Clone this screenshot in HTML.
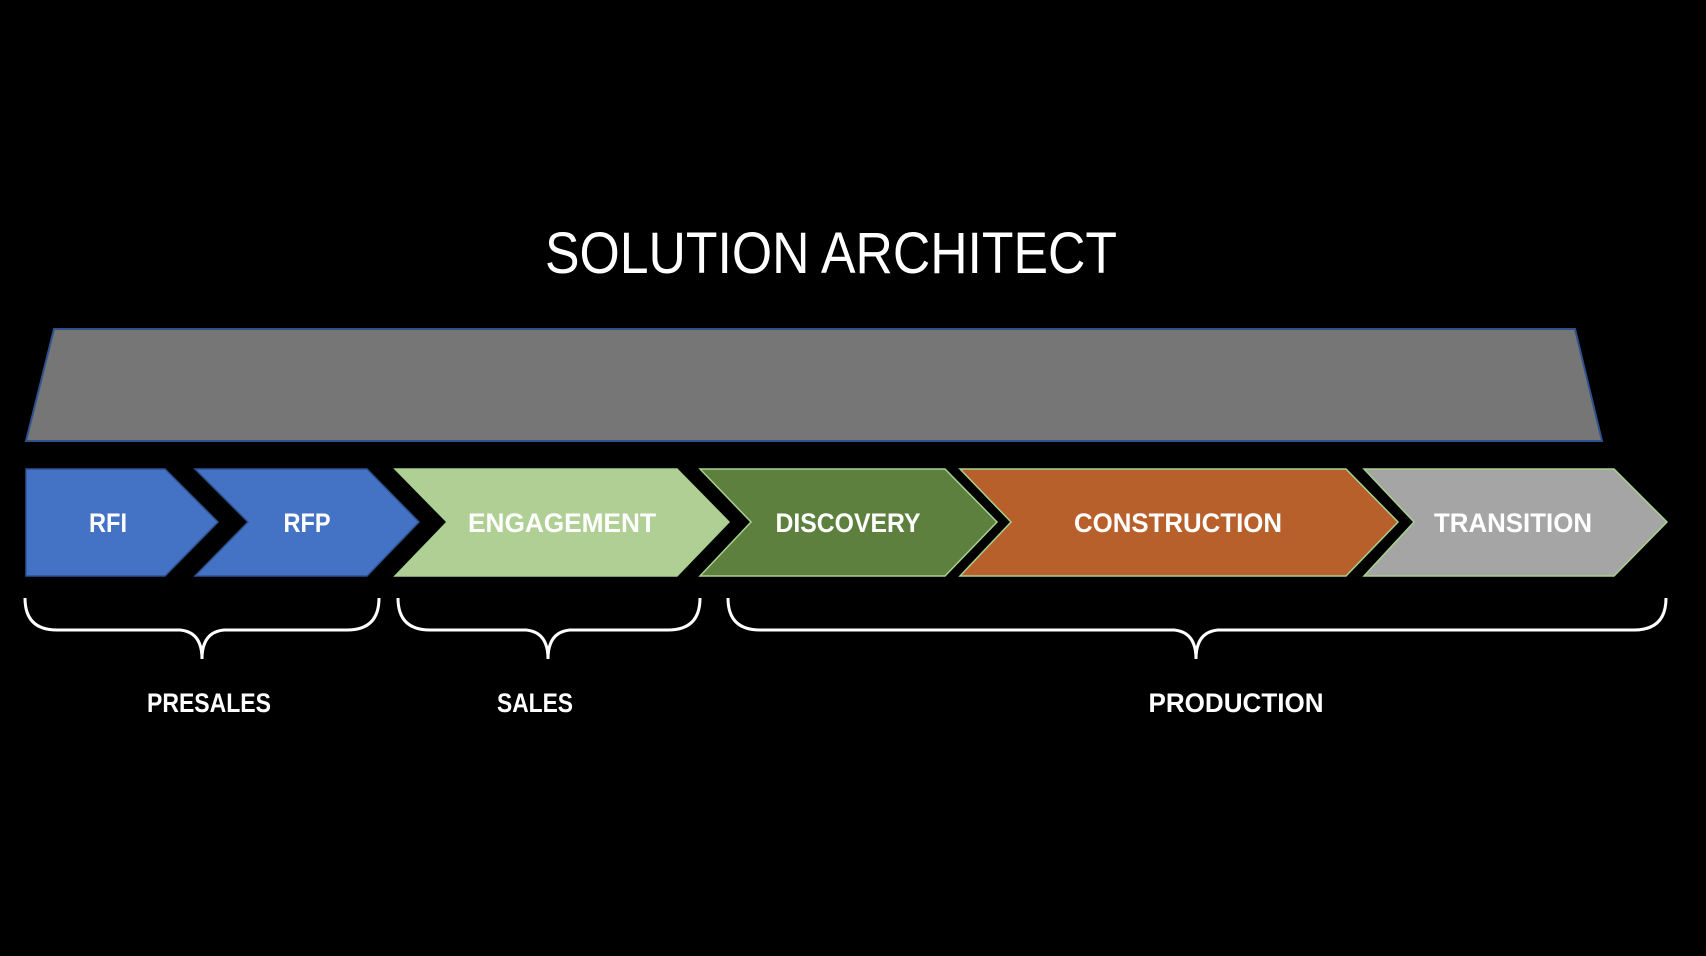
<!DOCTYPE html>
<html><head><meta charset="utf-8"><style>
html,body{margin:0;padding:0;background:#000;}
svg{display:block;}
text{font-family:"Liberation Sans",sans-serif;fill:#fff;}
</style></head><body>
<svg width="1706" height="956" viewBox="0 0 1706 956" xmlns="http://www.w3.org/2000/svg">
<rect width="1706" height="956" fill="#000"/>
<text x="831" y="273" font-size="58" text-anchor="middle" textLength="572" lengthAdjust="spacingAndGlyphs">SOLUTION ARCHITECT</text>
<polygon points="54,329 1575,329 1602,441 26,441" fill="#767676" stroke="#2f528f" stroke-width="2"/>
<g stroke-width="1.5">
<polygon points="26,469 165,469 218,522 165,576 26,576" fill="#4472c4" stroke="#2f528f"/>
<polygon points="195,469 367,469 419,522 367,576 195,576 248,522" fill="#4472c4" stroke="#2f528f"/>
<polygon points="395,469 677,469 729,522 677,576 395,576 447,522" fill="#b0cf95" stroke="#a9d18e"/>
<polygon points="700,469 945,469 997,522 945,576 700,576 751,522" fill="#5e803f" stroke="#a9d18e"/>
<polygon points="960,469 1346,469 1398,522 1346,576 960,576 1011,522" fill="#b8602b" stroke="#a9d18e"/>
<polygon points="1364,469 1614,469 1667,522 1614,576 1364,576 1414,522" fill="#a5a5a5" stroke="#a9d18e"/>
</g>
<g font-size="27" font-weight="bold" text-anchor="middle">
<text x="108" y="532" textLength="38" lengthAdjust="spacingAndGlyphs">RFI</text>
<text x="307" y="532" textLength="47" lengthAdjust="spacingAndGlyphs">RFP</text>
<text x="562" y="532" textLength="188" lengthAdjust="spacingAndGlyphs">ENGAGEMENT</text>
<text x="848" y="532" textLength="145" lengthAdjust="spacingAndGlyphs">DISCOVERY</text>
<text x="1178" y="532" textLength="208" lengthAdjust="spacingAndGlyphs">CONSTRUCTION</text>
<text x="1513" y="532" textLength="158" lengthAdjust="spacingAndGlyphs">TRANSITION</text>
<text x="209" y="712" textLength="124" lengthAdjust="spacingAndGlyphs">PRESALES</text>
<text x="535" y="712" textLength="76" lengthAdjust="spacingAndGlyphs">SALES</text>
<text x="1236" y="712" textLength="175" lengthAdjust="spacingAndGlyphs">PRODUCTION</text>
</g>
<g fill="none" stroke="#fff" stroke-width="3">
<path d="M25,598 Q25,630 57,630 L180,630 Q202,632 202,659 Q202,632 224,630 L347,630 Q379,630 379,598"/>
<path d="M398,598 Q398,630 430,630 L526,630 Q548,632 548,659 Q548,632 570,630 L668,630 Q700,630 700,598"/>
<path d="M728,598 Q728,630 760,630 L1174,630 Q1196,632 1196,659 Q1196,632 1218,630 L1634,630 Q1666,630 1666,598"/>
</g>
</svg>
</body></html>
